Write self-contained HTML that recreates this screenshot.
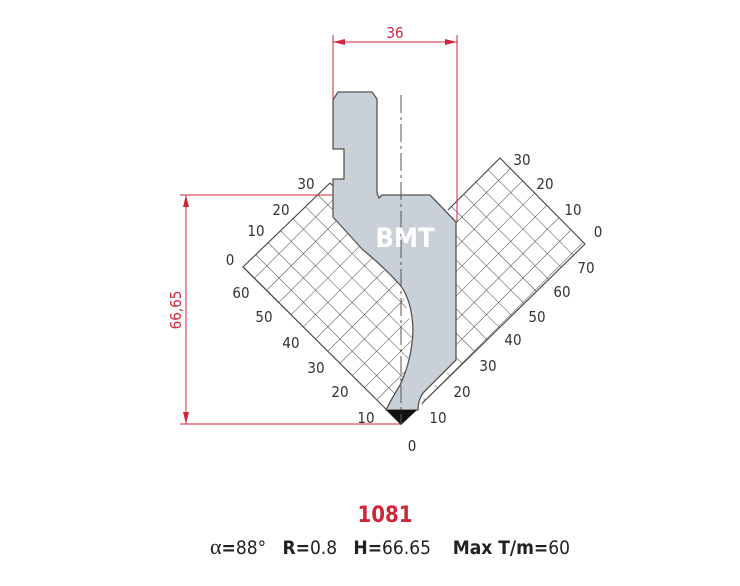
<!DOCTYPE html>
<html><head><meta charset="utf-8"><style>
html,body{margin:0;padding:0;background:#fff;}
svg{display:block}
text{font-family:"DejaVu Sans Condensed","Liberation Sans",sans-serif;}
</style></head><body>
<svg width="740" height="586" viewBox="0 0 740 586" xmlns="http://www.w3.org/2000/svg">
<defs>
<pattern id="g" patternUnits="userSpaceOnUse" x="401" y="424" width="17.25" height="17.25" patternTransform="rotate(45 401 424)">
<path d="M0 0H17.25M0 0V17.25" stroke="#444" stroke-width="1" fill="none"/>
</pattern>
</defs>
<!-- grids -->
<polygon points="401,424 243,267 330,183 338,191 338,215 362,249 400,285 413,330 405,380 395,405" fill="url(#g)"/>
<polygon points="401,424 585,244 500,158 448,210 456,222 456,360 423,393 418,410" fill="url(#g)"/>
<polyline points="401,424 243,267 330,183 338,191" fill="none" stroke="#444" stroke-width="1.1"/>
<polyline points="401,424 585,244 500,158 448,210" fill="none" stroke="#444" stroke-width="1.1"/>
<!-- dimension lines -->
<g stroke="#d0263a" stroke-width="1" fill="none">
<line x1="333" y1="35" x2="333" y2="100"/>
<line x1="457" y1="35" x2="457" y2="222"/>
<line x1="333" y1="42" x2="457" y2="42"/>
<line x1="180" y1="195" x2="335" y2="195"/>
<line x1="180" y1="424" x2="401" y2="424"/>
<line x1="186" y1="195" x2="186" y2="424"/>
</g>
<g fill="#d0263a">
<polygon points="333,42 345,39 345,45"/><polygon points="457,42 445,39 445,45"/>
<polygon points="186,195 183,207 189,207"/><polygon points="186,424 183,412 189,412"/>
</g>
<text x="395" y="38" fill="#d0263a" font-size="15" text-anchor="middle">36</text>
<text transform="translate(181,310) rotate(-90)" fill="#d0263a" font-size="15" text-anchor="middle">66,65</text>
<!-- punch -->
<path d="M456,360 L423,393 Q418,400 418,410" fill="none" stroke="#fff" stroke-width="6"/>
<path d="M338,92 L372,92 L377,99 L377,193 L379,198 L382,195 L430,195 L456,222 L456,360 L423,393 Q418,400 418,410 L386,410 Q392,398 400,385 Q412,360 413,330 Q412,300 400,285 Q385,268 362,249 L333,217 L333,179 L344,179 L344,149 L333,149 L333,100 Z" fill="#c9d0d8" stroke="#555" stroke-width="1.3" stroke-linejoin="round"/>
<polygon points="386,410 417,410 401,425" fill="#111"/>
<line x1="401" y1="95" x2="401" y2="424" stroke="#555" stroke-width="1" stroke-dasharray="18,4,3,4"/>
<text x="405" y="247" fill="#fff" font-size="27" font-weight="bold" text-anchor="middle" font-family="Liberation Sans">BMT</text>
<!-- labels -->
<g fill="#333" font-size="15" text-anchor="middle">
<text x="306" y="189">30</text><text x="281" y="215">20</text><text x="256" y="236">10</text>
<text x="230" y="265">0</text><text x="241" y="298">60</text><text x="264" y="322">50</text>
<text x="291" y="348">40</text><text x="316" y="373">30</text><text x="340" y="397">20</text>
<text x="366" y="423">10</text>
<text x="522" y="165">30</text><text x="545" y="189">20</text><text x="573" y="215">10</text>
<text x="598" y="237">0</text><text x="586" y="273">70</text><text x="562" y="297">60</text>
<text x="537" y="322">50</text><text x="513" y="345">40</text><text x="488" y="371">30</text>
<text x="462" y="397">20</text><text x="438" y="423">10</text><text x="412" y="451">0</text>
</g>
<text x="385" y="522" fill="#d0263a" font-size="22" font-weight="bold" text-anchor="middle">1081</text>
<text x="390" y="554" fill="#222" font-size="19" text-anchor="middle" xml:space="preserve"><tspan font-family="Liberation Serif" font-size="22">α</tspan><tspan font-weight="bold">=</tspan>88°   <tspan font-weight="bold">R=</tspan>0.8   <tspan font-weight="bold">H=</tspan>66.65    <tspan font-weight="bold">Max T/m=</tspan>60</text>
</svg>
</body></html>
